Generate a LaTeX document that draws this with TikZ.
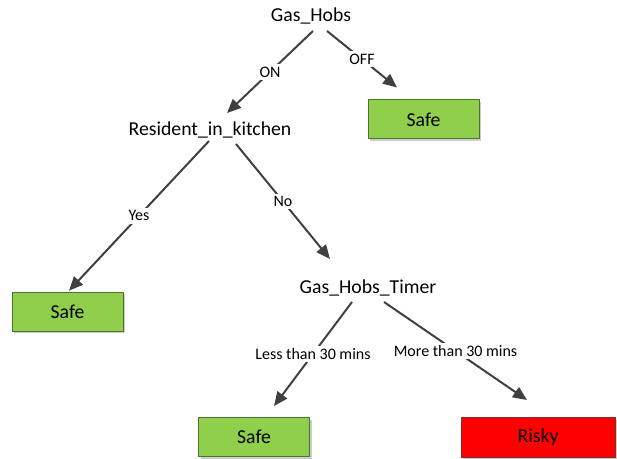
\documentclass[tikz,border=0pt]{standalone}
\usepackage{fontspec}
\setmainfont{Carlito}
\usetikzlibrary{arrows.meta,calc,shadows}
\definecolor{edgegray}{HTML}{404040}
\definecolor{safegreen}{HTML}{8FCF4C}
\definecolor{safeborder}{HTML}{4E7330}
\definecolor{riskyred}{HTML}{FF0000}
\definecolor{riskyborder}{HTML}{7A3030}

\begin{document}
\begin{tikzpicture}[x=0.75pt,y=-0.75pt,
    attr/.style={font=\fontsize{14.8}{17}\selectfont, inner sep=0pt, anchor=base},
    leaf/.style={line width=0.75pt, minimum height=29.25pt, inner sep=0pt,
      font=\fontsize{14.8}{17}\selectfont,
      drop shadow={shadow xshift=1.5pt, shadow yshift=-1.5pt, fill=black!20, opacity=1}},
    safe/.style={leaf, fill=safegreen, draw=safeborder, minimum width=83.25pt},
    risky/.style={leaf, fill=riskyred, draw=riskyborder, minimum width=115.5pt, minimum height=30pt},
    branch/.style={draw=edgegray, line width=1.5pt, -{Triangle[length=10.5pt,width=9pt]}},
    cond/.style={midway, fill=white, inner sep=2pt, text=black, font=\fontsize{12}{14}\selectfont}]
    \useasboundingbox (0,0) rectangle (617,459);
    \node[attr] (gh) at (311,22) {Gas\_Hobs};
    \node[attr] (rk) at (210,136) {Resident\_in\_kitchen};
    \node[attr] (gt) at (368,294) {Gas\_Hobs\_Timer};
    \node[safe] (s1) at (423.5,119.5) {Safe};
    \node[safe] (s2) at (67.5,311.7) {Safe};
    \node[safe] (s3) at (254,437) {Safe};
    \node[risky] (rs) at (538,437.5) {Risky};
    \draw[branch] ($(gh.base)+(2,9)$) -- ($(rk.base)+(17,-23)$) node[cond] {ON};
    \draw[branch] ($(gh.base)+(16,9)$) -- ($(s1.north)+(-26.5,-12)$) node[cond] {OFF};
    \draw[branch] ($(rk.base)+(-1,5)$) -- ($(s2.north)+(1.5,-1)$) node[cond] {Yes};
    \draw[branch] ($(rk.base)+(26,8)$) -- ($(gt.base)+(-38,-35)$) node[cond] {No};
    \draw[branch] ($(gt.base)+(-16,8)$) -- ($(s3.north)+(20,-11)$) node[cond] {Less than 30 mins};
    \draw[branch] ($(gt.base)+(16,8)$) -- ($(rs.north)+(-11,-17)$) node[cond] {More than 30 mins};
  \end{tikzpicture}
\end{document}
